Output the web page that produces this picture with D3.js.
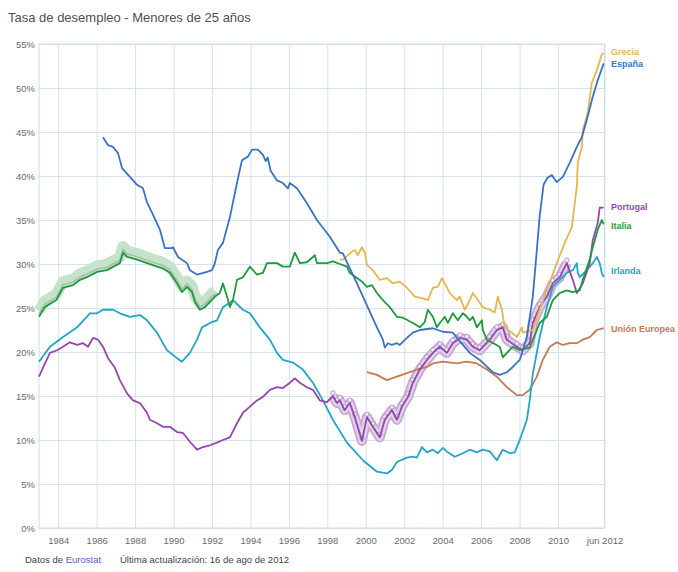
<!DOCTYPE html>
<html>
<head>
<meta charset="utf-8">
<script src="https://cdn.jsdelivr.net/npm/d3@7"></script>
<style>
  html, body { margin: 0; padding: 0; background: #fff; overflow: hidden; }
  svg { display: block; font-family: "Liberation Sans", Arial, sans-serif; }
</style>
</head>
<body>
<svg width="678" height="572"></svg>
<script>
// data: [year, % unemployed under 25]
const espana = [[1986.33,44.4],[1986.59,43.5],[1986.85,43.3],[1987.11,42.6],[1987.32,40.9],[1987.73,39.9],[1988.1,39.0],[1988.41,38.6],[1988.62,37.0],[1988.93,35.6],[1989.29,33.9],[1989.55,31.8],[1989.92,31.8],[1989.97,31.9],[1990.23,30.8],[1990.7,30.1],[1990.85,29.3],[1991.22,28.8],[1991.74,29.1],[1992.0,29.3],[1992.15,30.1],[1992.31,31.6],[1992.57,32.4],[1992.93,35.3],[1993.3,39.2],[1993.56,41.8],[1993.87,42.2],[1994.08,43.0],[1994.39,43.0],[1994.65,42.4],[1994.8,41.7],[1994.9,42.1],[1995.05,40.6],[1995.38,39.5],[1995.69,39.2],[1995.95,38.6],[1996.05,39.2],[1996.42,38.6],[1996.94,36.9],[1997.46,35.0],[1998.13,33.1],[1998.65,31.3],[1998.81,31.2],[1999.17,29.5],[1999.54,27.8],[2000.06,25.3],[2000.58,22.8],[2000.89,21.4],[2000.99,20.5],[2001.15,21.0],[2001.36,20.8],[2001.62,21.0],[2001.77,20.8],[2002.14,21.6],[2002.45,22.2],[2002.81,22.5],[2003.49,22.7],[2004.01,22.3],[2004.53,22.2],[2004.9,21.2],[2005.41,19.9],[2005.93,19.1],[2006.61,17.7],[2006.97,17.4],[2007.34,17.7],[2007.65,18.3],[2008.01,19.1],[2008.38,21.7],[2008.69,26.3],[2008.9,31.6],[2009.05,35.5],[2009.25,39.0],[2009.45,39.8],[2009.68,40.1],[2009.94,39.3],[2010.25,39.9],[2010.61,41.5],[2010.98,43.3],[2011.24,44.4],[2011.5,46.4],[2011.81,49.0],[2012.07,50.9],[2012.38,52.8]];

const grecia = [[1998.65,30.5],[1998.81,30.5],[1999.28,31.4],[1999.43,31.6],[1999.59,31.0],[1999.8,31.9],[1999.95,31.3],[2000.06,29.9],[2000.37,29.3],[2000.73,28.2],[2001.1,28.4],[2001.41,27.8],[2001.77,28.0],[2002.14,27.3],[2002.55,26.3],[2002.97,26.1],[2003.23,25.9],[2003.49,27.3],[2003.75,27.4],[2003.96,28.4],[2004.11,27.8],[2004.37,26.7],[2004.74,25.9],[2004.89,26.3],[2005.15,24.8],[2005.41,25.9],[2005.57,26.7],[2005.83,25.9],[2006.09,25.1],[2006.45,24.8],[2006.71,24.5],[2006.87,26.3],[2007.08,24.8],[2007.23,22.8],[2007.6,22.2],[2007.86,21.7],[2008.12,22.8],[2008.17,22.2],[2008.69,22.5],[2009.0,24.5],[2009.5,27.5],[2009.94,30.1],[2010.35,32.4],[2010.72,34.2],[2010.98,38.8],[2011.03,41.5],[2011.24,43.3],[2011.29,45.2],[2011.55,47.2],[2011.76,50.6],[2012.02,52.0],[2012.28,53.8],[2012.38,54.0]];

const italia = [[1983.0,24.0],[1983.3,25.1],[1983.9,25.9],[1984.25,27.3],[1984.77,27.6],[1985.13,28.2],[1985.5,28.5],[1986.02,29.1],[1986.54,29.3],[1987.21,30.1],[1987.37,31.3],[1987.58,30.8],[1988.1,30.5],[1988.62,30.1],[1989.14,29.7],[1989.45,29.5],[1989.81,29.0],[1990.18,27.8],[1990.44,26.8],[1990.7,27.4],[1990.96,26.8],[1991.11,25.7],[1991.37,24.8],[1991.63,25.1],[1991.89,25.7],[1992.15,26.3],[1992.41,26.7],[1992.57,27.8],[1992.78,26.3],[1992.93,25.1],[1993.09,25.9],[1993.3,28.2],[1993.61,28.5],[1993.97,29.7],[1994.34,28.8],[1994.65,29.0],[1994.86,30.1],[1995.38,30.1],[1995.69,29.7],[1996.05,29.7],[1996.31,31.3],[1996.57,30.1],[1996.94,30.2],[1997.25,30.8],[1997.35,31.0],[1997.46,30.1],[1997.98,30.1],[1998.3,30.3],[1998.65,30.0],[1999.02,29.7],[1999.17,29.0],[1999.54,28.4],[1999.8,28.0],[2000.06,27.4],[2000.32,27.6],[2000.58,26.7],[2000.89,25.9],[2001.25,25.1],[2001.62,24.0],[2001.93,23.9],[2002.45,23.3],[2002.81,22.8],[2003.07,23.4],[2003.23,24.8],[2003.49,24.0],[2003.7,22.8],[2003.85,23.3],[2004.11,24.0],[2004.27,23.3],[2004.53,24.4],[2004.79,23.6],[2005.05,24.4],[2005.26,24.0],[2005.41,23.6],[2005.57,24.0],[2005.78,22.8],[2006.04,23.6],[2006.09,22.5],[2006.3,21.4],[2006.97,20.6],[2007.13,19.4],[2007.34,19.9],[2007.65,20.6],[2008.01,20.2],[2008.53,20.5],[2009.05,23.3],[2009.42,24.0],[2009.73,25.9],[2010.09,26.7],[2010.46,27.0],[2010.77,26.8],[2011.13,27.0],[2011.29,28.2],[2011.65,30.5],[2011.81,31.9],[2012.07,33.9],[2012.28,35.0],[2012.38,34.5]];

const irlanda = [[1983.0,18.9],[1983.57,20.6],[1984.25,21.7],[1984.98,22.8],[1985.65,24.4],[1986.02,24.4],[1986.33,24.8],[1986.85,24.8],[1987.21,24.4],[1987.73,24.0],[1988.25,24.2],[1988.62,23.6],[1989.14,22.2],[1989.66,20.2],[1990.18,19.3],[1990.44,18.9],[1990.85,19.9],[1991.22,21.4],[1991.48,22.8],[1991.89,23.3],[1992.26,23.6],[1992.57,25.1],[1992.93,25.6],[1993.09,25.9],[1993.61,24.8],[1993.97,24.4],[1994.49,22.8],[1995.01,21.4],[1995.38,19.9],[1995.69,19.1],[1996.21,18.8],[1996.73,18.0],[1997.25,16.5],[1997.77,14.5],[1998.29,12.3],[1999.02,9.7],[1999.85,7.7],[2000.58,6.4],[2001.1,6.2],[2001.36,6.6],[2001.62,7.5],[2002.14,8.0],[2002.45,8.1],[2002.66,8.0],[2002.92,9.2],[2003.18,8.6],[2003.49,8.9],[2003.75,8.5],[2004.01,9.1],[2004.27,8.6],[2004.63,8.1],[2005.05,8.5],[2005.41,8.9],[2005.78,8.6],[2006.09,8.9],[2006.45,8.7],[2006.82,7.7],[2007.13,8.9],[2007.49,8.5],[2007.75,8.6],[2008.01,10.0],[2008.38,12.3],[2008.53,14.5],[2008.69,17.5],[2009.05,21.7],[2009.42,25.1],[2009.73,27.4],[2010.09,28.2],[2010.46,29.0],[2010.77,29.3],[2010.98,30.1],[2011.03,29.0],[2011.13,28.5],[2011.5,29.3],[2011.81,30.1],[2012.02,30.8],[2012.17,30.1],[2012.28,29.0],[2012.38,28.5]];

const portugal = [[1983.0,17.2],[1983.31,18.7],[1983.57,19.9],[1983.94,20.2],[1984.25,20.6],[1984.61,21.1],[1984.98,20.8],[1985.29,21.0],[1985.55,20.6],[1985.81,21.6],[1986.07,21.4],[1986.33,20.6],[1986.59,19.3],[1986.95,18.2],[1987.21,16.8],[1987.58,15.3],[1987.89,14.5],[1988.25,14.2],[1988.62,13.1],[1988.77,12.3],[1989.14,11.9],[1989.45,11.5],[1989.81,11.5],[1990.18,10.9],[1990.49,10.8],[1990.85,9.8],[1991.22,8.9],[1991.53,9.2],[1991.89,9.4],[1992.26,9.7],[1992.57,10.0],[1992.93,10.3],[1993.3,11.9],[1993.61,13.1],[1993.97,13.8],[1994.34,14.5],[1994.65,14.9],[1995.01,15.7],[1995.38,16.0],[1995.69,15.9],[1996.05,16.5],[1996.31,17.0],[1996.57,16.5],[1996.94,16.0],[1997.25,15.7],[1997.61,14.5],[1997.98,14.3],[1998.29,15.0],[1998.5,14.2],[1998.65,14.5],[1998.9,13.4],[1999.17,14.2],[1999.43,12.6],[1999.8,9.9],[2000.06,12.6],[2000.37,11.5],[2000.73,10.3],[2000.99,12.3],[2001.36,13.4],[2001.62,12.3],[2001.88,13.8],[2002.2,14.9],[2002.45,16.5],[2002.81,18.0],[2003.18,19.1],[2003.49,19.9],[2003.85,20.6],[2004.22,19.9],[2004.53,21.0],[2004.9,21.6],[2005.26,21.4],[2005.57,20.6],[2005.93,20.2],[2006.45,21.4],[2006.82,22.5],[2007.13,22.8],[2007.34,21.4],[2007.86,20.6],[2008.17,20.2],[2008.53,21.0],[2008.69,23.3],[2009.05,25.1],[2009.42,26.3],[2009.73,27.8],[2010.09,28.5],[2010.46,30.1],[2010.77,28.2],[2010.98,26.7],[2011.29,27.8],[2011.65,30.1],[2011.81,32.7],[2012.07,34.7],[2012.17,36.4],[2012.38,36.4]];

const unionEuropea = [[2000.06,17.7],[2000.58,17.4],[2001.1,16.8],[2001.62,17.2],[2002.14,17.6],[2002.66,18.0],[2003.18,18.3],[2003.49,18.7],[2004.01,18.9],[2004.74,18.7],[2005.26,18.9],[2005.78,18.7],[2006.3,18.0],[2006.82,17.2],[2007.34,16.0],[2007.86,15.1],[2008.17,15.1],[2008.53,15.7],[2008.9,17.2],[2009.21,19.1],[2009.57,20.6],[2009.94,21.1],[2010.25,20.8],[2010.61,21.0],[2010.98,21.0],[2011.29,21.4],[2011.65,21.7],[2012.02,22.5],[2012.38,22.7]];

// stretches carrying the pale "flag" band in the original
const italiaBand = [1983.0, 1992.2];
const portugalBand = [1998.0, 2010.7];

const yTicks = [0, 5, 10, 15, 20, 25, 30, 35, 40, 45, 50, 55];
const xTicks = [1984, 1986, 1988, 1990, 1992, 1994, 1996, 1998, 2000, 2002, 2004, 2006, 2008, 2010, 2012.42];
const xTickLabels = ['1984', '1986', '1988', '1990', '1992', '1994', '1996', '1998', '2000', '2002', '2004', '2006', '2008', '2010', 'jun 2012'];

const series = [
  {name: 'Unión Europea', data: unionEuropea, color: '#c47a55', labelY: 329},
  {name: 'Irlanda', data: irlanda, color: '#22a6c8', labelY: 271},
  {name: 'Portugal', data: portugal, color: '#9646b2', labelY: 207},
  {name: 'Italia', data: italia, color: '#1f9b3c', labelY: 226},
  {name: 'Grecia', data: grecia, color: '#e8b64c', labelY: 52},
  {name: 'España', data: espana, color: '#3b72c6', labelY: 64}
];

var svg = d3.select('svg');
var width = +svg.attr('width');
var height = +svg.attr('height');

const margin = {top: 44, right: 73.5, bottom: 44, left: 39};
const innerWidth = width - margin.left - margin.right;
const innerHeight = height - margin.top - margin.bottom;

const xScale = d3.scaleLinear().domain([1983, 2012.42]).range([0, innerWidth]);
const yScale = d3.scaleLinear().domain([0, 55]).range([innerHeight, 0]);

svg.append('text')
  .attr('x', 8).attr('y', 22)
  .style('font-size', '13px').style('fill', '#505050')
  .text('Tasa de desempleo - Menores de 25 años');

const g = svg.append('g')
  .attr('transform', `translate(${margin.left}, ${margin.top})`);

// grid + axes
const xAxis = g.append('g')
  .attr('transform', `translate(0,${innerHeight})`)
  .call(d3.axisBottom(xScale).tickValues(xTicks)
    .tickFormat((d, i) => xTickLabels[i]).tickSize(-innerHeight).tickPadding(9));
const yAxis = g.append('g')
  .call(d3.axisLeft(yScale).tickValues(yTicks)
    .tickFormat(d => d + '%').tickSize(-innerWidth).tickPadding(4));

[xAxis, yAxis].forEach(a => {
  a.select('.domain').remove();
  a.selectAll('line').style('stroke', '#d5e2ea').style('stroke-width', 1);
  a.selectAll('text').style('font-size', '9.5px').style('fill', '#6a6a6a').style('font-family', '"Liberation Sans", Arial, sans-serif');
});

g.append('rect')
  .attr('width', innerWidth).attr('height', innerHeight)
  .style('fill', 'none').style('stroke', '#cfdde6');

const line = d3.line()
  .x(d => xScale(d[0]))
  .y(d => yScale(d[1]));

function within(data, range) {
  return data.filter(d => d[0] >= range[0] && d[0] <= range[1]);
}

// pale flag bands
const itBand = within(italia, italiaBand);
g.append('path').datum(itBand)
  .attr('d', line).attr('transform', 'translate(0,-6)')
  .style('fill', 'none').style('stroke', '#c4e4ca').style('stroke-width', 11)
  .style('stroke-linejoin', 'round');
g.append('path').datum(itBand)
  .attr('d', line).attr('transform', 'translate(0,-3)')
  .style('fill', 'none').style('stroke', '#b3b3b3').style('stroke-width', 1.5);

const ptBand = within(portugal, portugalBand);
g.append('path').datum(ptBand)
  .attr('d', line)
  .style('fill', 'none').style('stroke', '#c9a4d8').style('stroke-width', 10)
  .style('stroke-linejoin', 'round');
g.append('path').datum(ptBand)
  .attr('d', line)
  .style('fill', 'none').style('stroke', '#dcd6e4').style('stroke-width', 6.5)
  .style('stroke-linejoin', 'round');
g.selectAll('circle.pt').data(ptBand)
  .enter().append('circle')
  .attr('cx', d => xScale(d[0]))
  .attr('cy', d => yScale(d[1]) - 3)
  .attr('r', 2.2)
  .style('fill', '#f4eef8').style('stroke', '#b07cc6').style('stroke-width', 0.8);

// series lines
g.selectAll('path.series').data(series)
  .enter().append('path')
  .attr('class', 'series')
  .attr('d', d => line(d.data))
  .style('fill', 'none')
  .style('stroke', d => d.color)
  .style('stroke-width', 1.8)
  .style('stroke-linejoin', 'round');

// end labels
svg.selectAll('text.lbl').data(series)
  .enter().append('text')
  .attr('class', 'lbl')
  .attr('x', 611)
  .attr('y', d => d.labelY)
  .attr('dy', '0.35em')
  .style('font-size', '9px').style('font-weight', 'bold')
  .style('fill', d => d.color)
  .text(d => d.name);

// footer
const foot = svg.append('text')
  .attr('x', 25).attr('y', 563)
  .style('font-size', '9.5px').style('fill', '#444');
foot.append('tspan').text('Datos de ');
foot.append('tspan').style('fill', '#6456c8').text('Eurostat');
svg.append('text')
  .attr('x', 120).attr('y', 563)
  .style('font-size', '9.5px').style('fill', '#444')
  .text('Última actualización: 16 de ago de 2012');
</script>
</body>
</html>
